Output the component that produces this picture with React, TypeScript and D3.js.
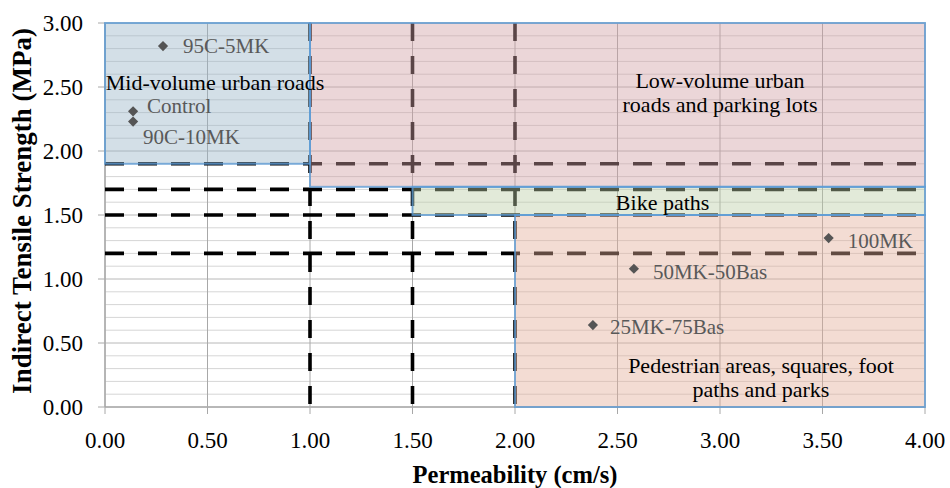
import React from "react";
import * as d3 from "d3";

// ---- data ----
const sampleNames = ["95C-5MK", "Control", "90C-10MK", "100MK", "50MK-50Bas", "25MK-75Bas"];
const permeability = [0.283, 0.137, 0.137, 3.53, 2.58, 2.38];
const strength = [2.82, 2.31, 2.23, 1.32, 1.08, 0.64];

const regionLines = [
  ["Mid-volume urban roads"],
  ["Low-volume urban", "roads and parking lots"],
  ["Bike paths"],
  ["Pedestrian areas, squares, foot", "paths and parks"],
];
const regionPermFrom = [0, 1, 1.5, 2];
const regionPermTo = [1, 4, 4, 4];
const regionStrFrom = [1.9, 1.72, 1.5, 0];
const regionStrTo = [3, 3, 1.72, 1.5];

const strengthThresholds = [1.2, 1.5, 1.7, 1.9];
const permeabilityThresholds = [1.0, 1.5, 2.0];

const xTickValues = [0, 0.5, 1, 1.5, 2, 2.5, 3, 3.5, 4];
const yTickValues = [0, 0.5, 1, 1.5, 2, 2.5, 3];

const xTitle = "Permeability (cm/s)";
const yTitle = "Indirect Tensile Strength (MPa)";

// ---- layout / style ----
const W = 950, H = 488;
const M = { left: 105, right: 25, top: 23, bottom: 81 };
const regionFill = ["#99b5c7", "#d1a0a4", "#bccea7", "#e3ae99"];
const regionDrawOrder = [1, 0, 2, 3];
// label anchor (data units) per region
const regionLabelAt = [[0.537, 2.54], [3.0, 2.46], [2.72, 1.6], [3.2, 0.23]];
// label offsets in px per sample
const labelDx = [20, 14, 10, 19, 19, 17];
const labelDy = [0, -6, 15, 3, 3, 2];

const SERIF = "'Liberation Serif', 'Times New Roman', serif";

export default function App() {
  const x = d3.scaleLinear().domain([0, 4]).range([M.left, W - M.right]);
  const y = d3.scaleLinear().domain([0, 3]).range([H - M.bottom, M.top]);
  const fmt = d3.format(".2f");
  const minorY = d3.range(0, 3.0001, 0.1).map((v) => Math.round(v * 10) / 10);
  const diamond = d3.symbol().type(d3.symbolSquare).size(52)() as string;

  const x0 = x(0), x1 = x(4), yb = y(0), yt = y(3);

  return (
    <div style={{ position: "absolute", left: 0, top: 0 }}>
      <svg width={W} height={H} style={{ display: "block", background: "#fff" }}>
        {/* minor horizontal gridlines */}
        {minorY.map((v, i) => (
          <line key={"mg" + i} x1={x0} x2={x1} y1={y(v)} y2={y(v)}
            stroke={Math.abs((v * 2) % 1) < 1e-6 ? "#b8b8b8" : "#d6d6d6"} strokeWidth={1} />
        ))}
        {/* vertical gridlines */}
        {xTickValues.map((v, i) => (
          <line key={"vg" + i} x1={x(v)} x2={x(v)} y1={yt} y2={yb + 7} stroke="#a8a8a8" strokeWidth={1} />
        ))}
        {/* y ticks */}
        {yTickValues.map((v, i) => (
          <line key={"yt" + i} x1={x0 - 7} x2={x0} y1={y(v)} y2={y(v)} stroke="#a8a8a8" strokeWidth={1} />
        ))}
        {/* plot frame */}
        <rect x={x0} y={yt} width={x1 - x0} height={yb - yt} fill="none" stroke="#c4c4c4" strokeWidth={1} />
        <line x1={x0} x2={x0} y1={yt} y2={yb} stroke="#a0a0a0" />
        <line x1={x0} x2={x1} y1={yb} y2={yb} stroke="#a0a0a0" />

        {/* threshold dashed lines */}
        {strengthThresholds.map((v, i) => (
          <line key={"hd" + i} x1={x0} x2={x1} y1={y(v)} y2={y(v)} stroke="#000" strokeWidth={3.6}
            strokeDasharray="19,14" />
        ))}
        {permeabilityThresholds.map((v, i) => (
          <line key={"vd" + i} x1={x(v)} x2={x(v)} y1={yt} y2={yb} stroke="#000" strokeWidth={3.6}
            strokeDasharray="18,15" />
        ))}

        {/* region overlays */}
        {regionDrawOrder.map((r) => (
          <rect key={"rf" + r} x={x(regionPermFrom[r])} y={y(regionStrTo[r])}
            width={x(regionPermTo[r]) - x(regionPermFrom[r])}
            height={y(regionStrFrom[r]) - y(regionStrTo[r])}
            fill={regionFill[r]} fillOpacity={0.43} />
        ))}
        {regionDrawOrder.map((r) => (
          <rect key={"rb" + r} x={x(regionPermFrom[r])} y={y(regionStrTo[r])}
            width={x(regionPermTo[r]) - x(regionPermFrom[r])}
            height={y(regionStrFrom[r]) - y(regionStrTo[r])}
            fill="none" stroke="#5b9bd5" strokeOpacity={0.75} strokeWidth={2} />
        ))}

        {/* region labels */}
        {regionLines.map((lines, r) => (
          <text key={"rl" + r} x={x(regionLabelAt[r][0])} y={y(regionLabelAt[r][1])}
            textAnchor="middle" fontFamily={SERIF} fontSize={22} fill="#000">
            {lines.map((ln, j) => (
              <tspan key={j} x={x(regionLabelAt[r][0])}
                dy={j === 0 ? `${0.35 - (lines.length - 1) * 0.55}em` : "1.1em"}>{ln}</tspan>
            ))}
          </text>
        ))}

        {/* points */}
        {sampleNames.map((n, i) => (
          <g key={"pt" + i}>
            <path d={diamond} transform={`translate(${x(permeability[i])},${y(strength[i])}) rotate(45)`}
              fill="#555" />
            <text x={x(permeability[i]) + labelDx[i]} y={y(strength[i]) + labelDy[i]} dy="0.35em"
              fontFamily={SERIF} fontSize={21} fill="#595959">{n}</text>
          </g>
        ))}

        {/* tick labels */}
        {yTickValues.map((v, i) => (
          <text key={"yl" + i} x={x0 - 22} y={y(v)} dy="0.35em" textAnchor="end"
            fontFamily={SERIF} fontSize={23} fill="#000">{fmt(v)}</text>
        ))}
        {xTickValues.map((v, i) => (
          <text key={"xl" + i} x={x(v)} y={448} textAnchor="middle"
            fontFamily={SERIF} fontSize={23} fill="#000">{fmt(v)}</text>
        ))}

        {/* axis titles */}
        <text x={(x0 + x1) / 2} y={483} textAnchor="middle" fontFamily={SERIF} fontSize={24.5}
          fontWeight="bold" fill="#000">{xTitle}</text>
        <text transform={`translate(31,${(yt + yb) / 2 - 4}) rotate(-90)`} textAnchor="middle"
          fontFamily={SERIF} fontSize={27} fontWeight="bold" fill="#000">{yTitle}</text>
      </svg>
    </div>
  );
}
